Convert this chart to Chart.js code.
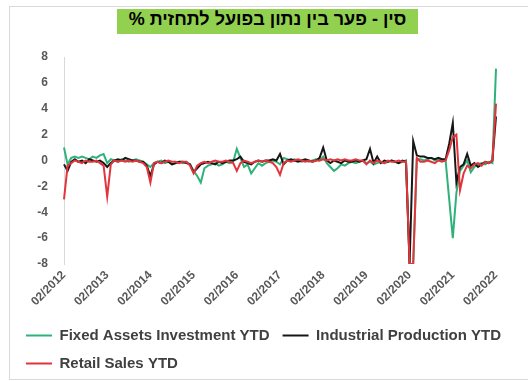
<!DOCTYPE html>
<html>
<head>
<meta charset="utf-8">
<script src="https://cdn.jsdelivr.net/npm/chart.js@4.4.1/dist/chart.umd.min.js"></script>
<style>
  html, body { margin: 0; padding: 0; background: #fff; }
  #wrap { position: relative; width: 528px; height: 381px; overflow: hidden; }
  #frame { position: absolute; left: 9px; top: 6px; width: 540px; height: 372px; border: 1px solid #d9d9d9; }
  #title {
    position: absolute; left: 117px; top: 9px; width: 301px; height: 25px;
    background: #92d050; color: #000; text-align: center; line-height: 25px;
    font: bold 18px "Liberation Sans", Arial, sans-serif;
  }
  canvas { position: absolute; left: 0; top: 0; }
</style>
</head>
<body>
<div id="wrap">
  <div id="frame"></div>
  <canvas id="chart" width="528" height="381"></canvas>
  <div id="title" dir="rtl">סין - פער בין נתון בפועל לתחזית %</div>
</div>
<script>
// monthly labels 02/2012 .. 02/2022
var startYear = 2012, startMonth = 2, monthCount = 121;
var months = [];
for (var i = 0; i < monthCount; i++) {
    var m = (startMonth - 1 + i) % 12 + 1;
    var y = startYear + Math.floor((startMonth - 1 + i) / 12);
    months.push((m < 10 ? '0' + m : '' + m) + '/' + y);
}

var seriesNames = ['Fixed Assets Investment YTD', 'Industrial Production YTD', 'Retail Sales YTD'];
var seriesColors = ['#2fb27a', '#161616', '#e3343c'];

// actual minus forecast, %
var fixedAssets = [
    1.0, -0.3, 0.2, 0.3, 0.2, 0.3, 0.2, 0.1, 0.3, 0.2, 0.4, 0.5,
    -0.2, 0.1, 0.0, -0.1, 0.1, 0.0, -0.1, 0.0, 0.1, 0.0, -0.1, -0.3,
    -0.5, -0.2, -0.1, 0.0, -0.2, -0.1, -0.3, -0.2, -0.1, -0.2, -0.1, -0.3,
    -0.8, -1.2, -1.7, -0.6, -0.4, -0.3, -0.2, -0.4, -0.3, -0.1, -0.2, -0.1,
    0.9, 0.2, -0.5, -0.3, -1.0, -0.6, -0.2, -0.4, -0.2, -0.1, 0.0, -0.1,
    -0.3, 0.2, 0.1, 0.0, 0.1, 0.0, -0.1, 0.0, -0.1, 0.0, 0.1, 0.0,
    0.3, -0.2, -0.5, -0.8, -0.6, -0.3, -0.4, -0.2, -0.1, -0.2, -0.1, 0.0,
    -0.2, -0.1, -0.3, -0.2, -0.1, -0.2, -0.1, 0.0, -0.1, -0.2, -0.1, 0.0,
    -8.0, -8.0, 0.1, 0.1, 0.0, 0.1, 0.2, 0.0, 0.1, 0.0, 0.0, -3.0,
    -6.0, -2.5, -0.8, -0.4, 0.0, -0.9, -0.5, -0.3, -0.2, -0.3, -0.1, -0.2,
    7.1
];
var industrialProd = [
    -0.3, -0.8, -0.1, 0.1, -0.1, 0.0, -0.2, 0.1, 0.0, -0.1, 0.0, -0.2,
    -0.5, -0.2, 0.0, 0.1, 0.0, 0.2, 0.1, 0.0, 0.0, -0.1, -0.1, -0.4,
    -1.2, -0.3, -0.1, -0.2, 0.0, -0.1, -0.3, -0.2, -0.1, -0.1, -0.2, -0.3,
    -0.9, -0.6, -0.3, -0.2, -0.1, -0.2, -0.3, -0.1, -0.2, -0.1, 0.0, 0.0,
    0.1, 0.3, -0.1, -0.2, -0.3, -0.1, 0.0, -0.1, 0.0, 0.0, 0.1, 0.0,
    0.5, -0.3, 0.0, 0.1, 0.0, -0.1, 0.0, 0.1, 0.0, -0.1, 0.0, 0.2,
    1.0, 0.0, -0.2, 0.0, -0.1, -0.2, 0.0, -0.1, -0.1, 0.0, -0.1, 0.0,
    0.1, 0.9, -0.2, 0.3, -0.2, 0.0, -0.1, 0.0, -0.1, -0.2, 0.0, -0.1,
    -8.0, 1.5, 0.4, 0.3, 0.3, 0.2, 0.2, 0.1, 0.2, 0.1, 0.1, 1.3,
    2.9, -1.7, -0.5, -0.3, 0.5, -0.4, -0.2, -0.5, -0.3, -0.1, -0.2, 0.0,
    3.4
];
var retailSales = [
    -3.0, -0.4, -0.2, 0.0, -0.1, -0.2, 0.0, -0.1, -0.1, 0.0, -0.2, -0.4,
    -2.8, -0.3, 0.0, -0.1, 0.0, -0.1, 0.0, -0.1, 0.0, -0.1, -0.2, -0.5,
    -1.7, -0.2, -0.1, -0.2, -0.1, 0.0, -0.1, -0.1, -0.2, -0.1, -0.1, -0.4,
    -1.0, -0.4, -0.2, -0.1, -0.2, -0.1, 0.0, -0.1, -0.1, 0.0, -0.1, -0.2,
    -0.8, -0.2, 0.0, -0.1, -0.2, -0.1, 0.0, -0.1, 0.0, -0.1, -0.2, -0.5,
    -1.1, -0.2, 0.0, -0.1, 0.0, 0.1, 0.0, -0.1, 0.0, -0.1, 0.0, 0.0,
    0.1, 0.0, 0.1, 0.0, 0.1, 0.0, 0.1, 0.0, 0.0, 0.1, 0.0, 0.0,
    -0.3, 0.0, -0.2, 0.0, -0.1, -0.2, 0.0, -0.1, -0.1, 0.0, -0.1, -0.1,
    -8.0, -8.0, 0.2, -0.1, -0.1, 0.0, -0.1, -0.2, 0.0, -0.1, 0.0, 0.8,
    1.8, 2.0, -2.3, -1.0, -0.4, -0.6, -0.3, -0.2, -0.4, -0.1, -0.2, 0.0,
    4.4
];

var yMin = -8, yMax = 8, yStep = 2;
var tickFont = { family: '"Liberation Sans", Arial, sans-serif', size: 12, weight: 'bold' };

var allSeries = [fixedAssets, industrialProd, retailSales];
var datasets = allSeries.map(function (vals, k) {
    return {
        label: seriesNames[k],
        data: vals,
        borderColor: seriesColors[k],
        backgroundColor: seriesColors[k],
        borderWidth: 2,
        pointRadius: 0,
        tension: 0,
        // red on top, green underneath
        order: 2 - k
    };
});

new Chart(document.getElementById('chart'), {
    type: 'line',
    data: { labels: months, datasets: datasets },
    options: {
        responsive: false,
        animation: false,
        layout: { padding: { left: 13, right: 0, top: 57, bottom: 0 } },
        plugins: {
            title: { display: false },
            tooltip: { enabled: false },
            legend: {
                position: 'bottom',
                align: 'start',
                labels: {
                    usePointStyle: true,
                    pointStyle: 'line',
                    pointStyleWidth: 26,
                    padding: 13,
                    color: '#404040',
                    font: { family: '"Liberation Sans", Arial, sans-serif', size: 15, weight: 'bold' },
                    sort: function (a, b) { return a.datasetIndex - b.datasetIndex; }
                }
            }
        },
        scales: {
            x: {
                offset: false,
                grid: { display: false, drawTicks: false },
                border: { display: false },
                ticks: {
                    autoSkip: false,
                    maxRotation: 45,
                    minRotation: 45,
                    padding: 4,
                    color: '#595959',
                    font: tickFont,
                    callback: function (val, idx) {
                        return idx % 12 === 0 ? months[idx] : null;
                    }
                },
                afterFit: function (scale) {
                    scale.height = 51;
                    scale.paddingRight = 32;
                }
            },
            y: {
                min: yMin,
                max: yMax,
                grid: { display: false, drawTicks: false },
                border: { display: true, color: '#d9d9d9', width: 1 },
                ticks: {
                    stepSize: yStep,
                    padding: 16,
                    color: '#595959',
                    font: tickFont
                },
                afterFit: function (scale) {
                    scale.width = 51;
                }
            }
        }
    }
});
</script>
</body>
</html>
